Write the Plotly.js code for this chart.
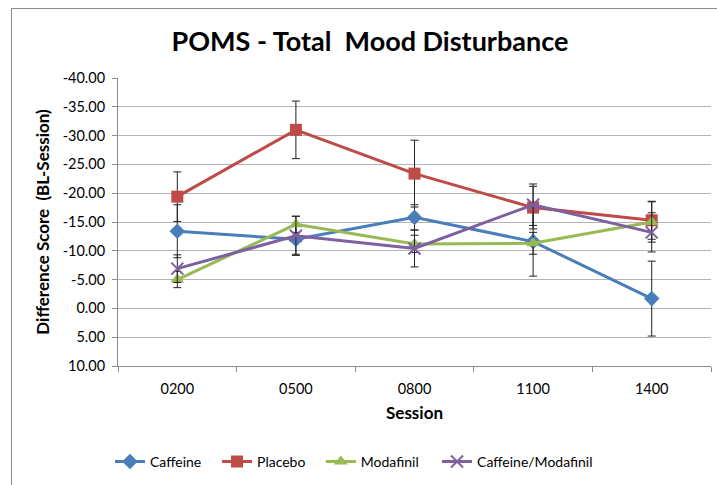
<!DOCTYPE html>
<html>
<head>
<meta charset="utf-8">
<script src="https://cdn.plot.ly/plotly-3.0.1.min.js"></script>
<style>
  html, body { margin: 0; padding: 0; background: #fff; }
  #frame { position: absolute; left: 11px; top: 8px; width: 760px; height: 540px; border: 1px solid #8c8c8c; box-sizing: border-box; }
  #chart { position: absolute; left: 0; top: 0; width: 717px; height: 485px; }
</style>
</head>
<body>
<div id="frame"></div>
<div id="chart"></div>
<script>
const sessions = ["0200", "0500", "0800", "1100", "1400"];

const caffeine        = [-13.4, -12.0, -15.8, -11.6, -1.7];
const caffeineErr     = [4.6, 2.6, 2.2, 6.0, 6.5];

const placebo         = [-19.4, -31.0, -23.4, -17.5, -15.3];
const placeboErr      = [4.3, 5.0, 5.8, 3.7, 3.3];

const modafinil       = [-5.0, -14.6, -11.2, -11.3, -15.0];
const modafinilErr    = [1.4, 1.4, 1.5, 1.9, 3.5];

const caffMod         = [-6.9, -12.6, -10.4, -18.0, -13.2];
const caffModErr      = [2.4, 3.4, 3.2, 3.6, 3.4];

const yTicks = [-40, -35, -30, -25, -20, -15, -10, -5, 0, 5, 10];
const yTickText = yTicks.map(v => v.toFixed(2));

function series(name, y, err, color, symbol, msize, legendId, extraMarker) {
  return {
    type: "scatter",
    mode: "lines+markers",
    name: name,
    legend: legendId,
    x: sessions,
    y: y,
    line: { color: color, width: 3 },
    marker: Object.assign({ color: color, symbol: symbol, size: msize }, extraMarker || {}),
    error_y: { type: "data", array: err, visible: true, color: "#222", thickness: 1, width: 4 }
  };
}

const traces = [
  series("Caffeine", caffeine, caffeineErr, "#4A7EBB", "diamond", 12, "legend"),
  series("Placebo", placebo, placeboErr, "#BE4B48", "square", 12, "legend2"),
  series("Modafinil", modafinil, modafinilErr, "#98B954", "triangle-up", 12, "legend3"),
  series("Caffeine/Modafinil", caffMod, caffModErr, "#7D60A0", "x-thin", 12, "legend4", { line: { color: "#7D60A0", width: 2 } })
];

function leg(x) {
  return {
    orientation: "h",
    x: x, xanchor: "left",
    y: -0.333, yanchor: "middle",
    font: { size: 14 },
    itemwidth: 30,
    bgcolor: "rgba(0,0,0,0)"
  };
}

const layout = {
  width: 717,
  height: 485,
  margin: { l: 118, r: 6, t: 78, b: 119 },
  paper_bgcolor: "rgba(0,0,0,0)",
  plot_bgcolor: "#fff",
  font: { family: "Lato, 'Open Sans', sans-serif", color: "#000", size: 14 },
  showlegend: true,
  title: {
    text: "<b>POMS - Total  Mood Disturbance</b>",
    font: { family: "Lato, sans-serif", size: 27, color: "#000" },
    x: 0.516, xanchor: "center",
    y: 0.915, yanchor: "middle"
  },
  xaxis: {
    type: "category",
    range: [-0.5, 4.5],
    showline: true, linecolor: "#8c8c8c", linewidth: 1,
    showgrid: false,
    ticks: "outside", tickson: "boundaries", ticklen: 5, tickcolor: "#8c8c8c",
    ticklabelstandoff: 10,
    tickfont: { size: 14.5 },
    title: { text: "<b>Session</b>", font: { size: 17 }, standoff: 10 },
    zeroline: false
  },
  yaxis: {
    range: [10, -40],
    tickmode: "array",
    tickvals: yTicks,
    ticktext: yTickText,
    showline: true, linecolor: "#8c8c8c", linewidth: 1,
    showgrid: true, gridcolor: "#b4b4b4", gridwidth: 1,
    ticks: "outside", ticklen: 5, tickcolor: "#8c8c8c",
    ticklabelstandoff: 4,
    tickfont: { size: 14.5 },
    zeroline: false,
    title: { text: "<b>Difference Score  (BL-Session)</b>", font: { size: 17 }, standoff: 8 }
  },
  legend: leg(-0.0135),
  legend2: leg(0.167),
  legend3: leg(0.342),
  legend4: leg(0.538)
};

Plotly.newPlot("chart", traces, layout, { displayModeBar: false, staticPlot: true });
</script>
</body>
</html>
